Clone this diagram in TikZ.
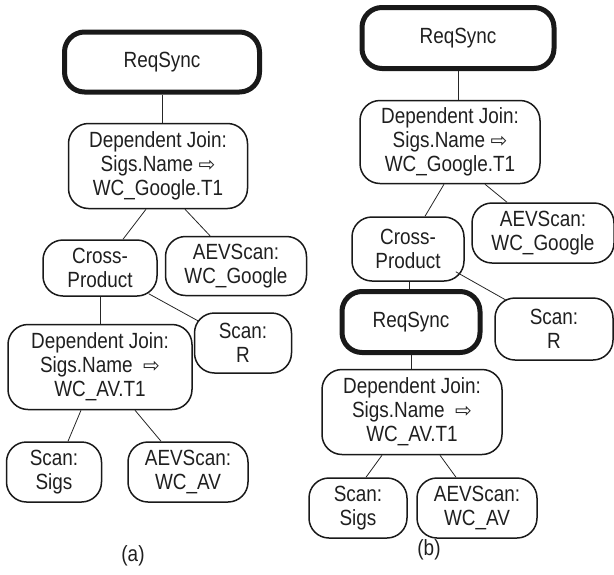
\documentclass[tikz,border=0pt]{standalone}
\usepackage{fontspec}
\setmainfont[FakeStretch=0.86]{Liberation Sans}
\newfontfamily\arrowfont{DejaVu Sans}
\newcommand{\rarr}{{\arrowfont\fontsize{20}{24}\selectfont ⇨}}
\begin{document}
\begin{tikzpicture}[x=1pt,y=-1pt,
  op/.style={draw=black!90, line width=1.5pt, rounded corners=20pt, inner sep=0pt,
             align=center, font=\fontsize{22}{24.2}\selectfont, text=black!88},
  sync/.style={op, line width=5pt},
  edge/.style={draw=black!85, line width=0.8pt},
  caption/.style={font=\fontsize{22}{24}\selectfont, text=black!88}]
\useasboundingbox (0,0) rectangle (614,574);

% ---------- plan (a) ----------
\node[sync, minimum width=195, minimum height=60] (rsA) at (162,62) {ReqSync};
\node[op, minimum width=179, minimum height=85] (djA) at (158,166)
  {Dependent Join:\\Sigs.Name \rarr\\WC\_Google.T1};
\node[op, minimum width=114, minimum height=56] (cpA) at (100,268) {Cross-\\Product};
\node[op, minimum width=141, minimum height=59] (agA) at (236,266) {AEVScan:\\WC\_Google};
\node[op, minimum width=97, minimum height=60] (srA) at (243,343) {Scan:\\R};
\node[op, minimum width=184, minimum height=85] (dkA) at (100,367)
  {Dependent Join:\\Sigs.Name \ \rarr\\WC\_AV.T1};
\node[op, minimum width=95, minimum height=60] (ssA) at (54,472) {Scan:\\Sigs};
\node[op, minimum width=120, minimum height=60] (avA) at (188,472) {AEVScan:\\WC\_AV};
\node[caption] (capA) at (133,556) {(a)};

\draw[edge] (rsA.south) -- (rsA.south |- djA.north);
\draw[edge] ([xshift=-12]djA.south) -- ([xshift=23]cpA.north);
\draw[edge] ([xshift=27]djA.south) -- ([xshift=-26]agA.north);
\draw[edge] ([shift={(-9,-3)}]cpA.south east) -- ([shift={(5,9)}]srA.north west);
\draw[edge] (cpA.south) -- (cpA.south |- dkA.north);
\draw[edge] ([xshift=-19]dkA.south) -- ([xshift=14]ssA.north);
\draw[edge] ([xshift=35]dkA.south) -- ([xshift=-27]avA.north);

% ---------- plan (b) ----------
\node[sync, minimum width=192, minimum height=61] (rsB) at (458,38) {ReqSync};
\node[op, minimum width=180, minimum height=83] (djB) at (450,142)
  {Dependent Join:\\Sigs.Name \rarr\\WC\_Google.T1};
\node[op, minimum width=112, minimum height=64] (cpB) at (408,249) {Cross-\\Product};
\node[op, minimum width=142, minimum height=60] (agB) at (543,233) {AEVScan:\\WC\_Google};
\node[op, minimum width=118, minimum height=62] (srB) at (554,329) {Scan:\\R};
\node[sync, minimum width=138, minimum height=61] (rs2B) at (411,322) {ReqSync};
\node[op, minimum width=180, minimum height=85] (dkB) at (412,412)
  {Dependent Join:\\Sigs.Name \ \rarr\\WC\_AV.T1};
\node[op, minimum width=98, minimum height=60] (ssB) at (358,508) {Scan:\\Sigs};
\node[op, minimum width=120, minimum height=60] (avB) at (477,508) {AEVScan:\\WC\_AV};
\node[caption] (capB) at (429,550) {(b)};

\draw[edge] (rsB.south) -- (rsB.south |- djB.north);
\draw[edge] ([xshift=-6]djB.south) -- ([xshift=17]cpB.north);
\draw[edge] ([xshift=35]djB.south) -- ([xshift=-36]agB.north);
\draw[edge] ([shift={(-9,-10)}]cpB.south east) -- ([shift={(12,3)}]srB.north west);
\draw[edge] ([xshift=1]cpB.south) -- ([xshift=1]cpB.south |- rs2B.north);
\draw[edge] (rs2B.south) -- (rs2B.south |- dkB.north);
\draw[edge] ([xshift=-30]dkB.south) -- ([xshift=8]ssB.north);
\draw[edge] ([xshift=28]dkB.south) -- ([xshift=-21]avB.north);
\end{tikzpicture}
\end{document}
